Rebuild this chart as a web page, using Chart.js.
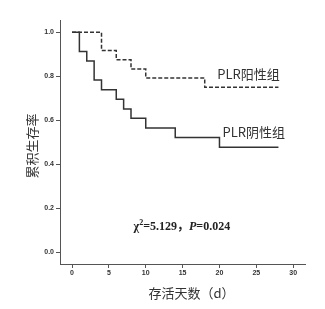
<!DOCTYPE html>
<html>
<head>
<meta charset="utf-8">
<script src="https://cdn.jsdelivr.net/npm/chart.js@4/dist/chart.umd.min.js"></script>
<style>
  html, body { margin: 0; padding: 0; background: #fff; }
  #wrap { width: 325px; height: 309px; }
</style>
</head>
<body>
<div id="wrap"><canvas id="km"></canvas></div>
<script>
// survival times (days) and cumulative survival for each group
const posDays = [0, 4, 6, 8, 10, 18, 28];
const posSurv = [1.0, 0.917, 0.875, 0.833, 0.792, 0.75, 0.75];
const negDays = [0, 1, 2, 3, 4, 6, 7, 8, 10, 14, 20, 28];
const negSurv = [1.0, 0.913, 0.870, 0.783, 0.739, 0.696, 0.652, 0.609, 0.565, 0.522, 0.478, 0.478];

const xTicks = [0, 5, 10, 15, 20, 25, 30];
const yTicks = [0, 0.2, 0.4, 0.6, 0.8, 1.0];

const posLabel = "PLR阳性组";
const negLabel = "PLR阴性组";
const xTitle = "存活天数（d）";
const yTitle = "累积生存率";

const toPoints = (xs, ys) => xs.map((x, i) => ({ x, y: ys[i] }));

// group labels, stats text and axis titles
const labelsPlugin = {
  id: "labels",
  afterDraw(chart) {
    const ctx = chart.ctx;
    const xs = chart.scales.x, ys = chart.scales.y;
    const area = chart.chartArea;
    ctx.save();
    ctx.fillStyle = "#333";
    ctx.textBaseline = "middle";
    ctx.font = "13px 'Noto Sans CJK SC', 'Liberation Serif', serif";
    ctx.textAlign = "left";
    ctx.fillText(posLabel, xs.getPixelForValue(19.7), ys.getPixelForValue(0.81));
    ctx.fillText(negLabel, xs.getPixelForValue(20.4), ys.getPixelForValue(0.547));

    // axis titles
    ctx.textAlign = "center";
    ctx.fillText(xTitle, xs.getPixelForValue(16.2), area.bottom + 29);
    ctx.save();
    ctx.translate(area.left - 28, (area.top + area.bottom) / 2 + 4);
    ctx.rotate(-Math.PI / 2);
    ctx.fillText(yTitle, 0, 0);
    ctx.restore();

    // chi-square annotation
    ctx.textAlign = "left";
    const parts = [
      { t: "χ", f: "bold 12px 'Liberation Serif', serif", dy: 0 },
      { t: "2", f: "bold 8px 'Liberation Serif', serif", dy: -4 },
      { t: "=5.129，", f: "bold 12px 'Liberation Serif', 'Noto Sans CJK SC', serif", dy: 0 },
      { t: "P", f: "italic bold 12px 'Liberation Serif', serif", dy: 0 },
      { t: "=0.024", f: "bold 12px 'Liberation Serif', serif", dy: 0 }
    ];
    let total = 0;
    parts.forEach(p => { ctx.font = p.f; p.w = ctx.measureText(p.t).width; total += p.w; });
    let x = xs.getPixelForValue(14.9) - total / 2;
    const y = ys.getPixelForValue(0.115);
    ctx.fillStyle = "#222";
    parts.forEach(p => {
      ctx.font = p.f;
      ctx.fillText(p.t, x, y + p.dy);
      x += p.w;
    });
    ctx.restore();
  }
};

new Chart(document.getElementById("km"), {
  type: "line",
  data: {
    datasets: [
      {
        label: posLabel,
        data: toPoints(posDays, posSurv),
        stepped: "before",
        borderColor: "#333",
        borderWidth: 1.5,
        borderDash: [4, 2],
        pointRadius: 0,
        fill: false
      },
      {
        label: negLabel,
        data: toPoints(negDays, negSurv),
        stepped: "before",
        borderColor: "#333",
        borderWidth: 1.5,
        pointRadius: 0,
        fill: false
      }
    ]
  },
  options: {
    responsive: true,
    maintainAspectRatio: false,
    animation: false,
    layout: { padding: { top: 20, right: 20, left: 0, bottom: 0 } },
    plugins: { legend: { display: false }, tooltip: { enabled: false } },
    scales: {
      x: {
        type: "linear",
        min: -1.63,
        max: 31.6,
        afterBuildTicks: s => { s.ticks = xTicks.map(v => ({ value: v })); },
        afterFit: s => { s.height = 45; },
        grid: { drawOnChartArea: false, drawTicks: true, tickLength: 4, color: "#555" },
        border: { color: "#555", width: 1 },
        ticks: {
          padding: 1,
          color: "#333",
          font: { family: "'Liberation Sans', sans-serif", size: 7, weight: "bold" },
          callback: v => v
        }
      },
      y: {
        min: -0.053,
        max: 1.056,
        afterBuildTicks: s => { s.ticks = yTicks.map(v => ({ value: v })); },
        afterFit: s => { s.width = 60; },
        grid: { drawOnChartArea: false, drawTicks: true, tickLength: 4, color: "#555" },
        border: { color: "#555", width: 1 },
        ticks: {
          padding: 2,
          color: "#333",
          font: { family: "'Liberation Sans', sans-serif", size: 7, weight: "bold" },
          callback: v => v.toFixed(1)
        }
      }
    }
  },
  plugins: [labelsPlugin]
});
</script>
</body>
</html>
